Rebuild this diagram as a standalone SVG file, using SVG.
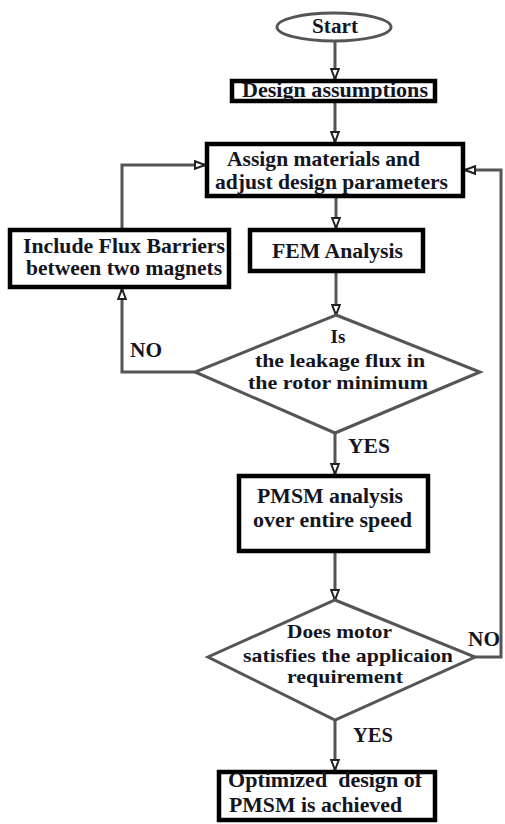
<svg xmlns="http://www.w3.org/2000/svg" width="505" height="824" viewBox="0 0 505 824">
<style>
.box{fill:#fff;stroke:#000;stroke-width:4.5}
.dec{fill:#fff;stroke:#555;stroke-width:3}
.t{font-family:'Liberation Serif','DejaVu Serif',serif;font-weight:700;font-size:21px;fill:#15151f}
.s{font-size:19px}
.c{fill:none;stroke:#555;stroke-width:3}
</style>
<defs>
<marker id="ah" viewBox="0 0 12 10" refX="11" refY="5" markerWidth="12" markerHeight="10" markerUnits="userSpaceOnUse" orient="auto">
<path d="M1,1.2 L11,5 L1,8.8 z" fill="#fff" stroke="#222" stroke-width="2"/>
</marker>
</defs>
<rect width="505" height="824" fill="#fff"/>
<g id="connectors">
<path class="c" d="M335,41 L335,79" marker-end="url(#ah)"/>
<path class="c" d="M335,103 L335,142" marker-end="url(#ah)"/>
<path class="c" d="M336,198 L336,228" marker-end="url(#ah)"/>
<path class="c" d="M336,273 L336,315" marker-end="url(#ah)"/>
<path class="c" d="M195,372 L122,372 L122,289" marker-end="url(#ah)"/>
<path class="c" d="M122,228 L122,165 L205,165" marker-end="url(#ah)"/>
<path class="c" d="M335,433 L335,474" marker-end="url(#ah)"/>
<path class="c" d="M335,553 L335,600" marker-end="url(#ah)"/>
<path class="c" d="M475,657 L501,657 L501,170 L465,170" marker-end="url(#ah)"/>
<path class="c" d="M335,720 L335,770" marker-end="url(#ah)"/>
<text class="t" font-family="Liberation Serif, serif" x="130" y="357" textLength="32" lengthAdjust="spacingAndGlyphs">NO</text>
<text class="t" font-family="Liberation Serif, serif" x="348" y="453" textLength="42" lengthAdjust="spacingAndGlyphs">YES</text>
<text class="t" font-family="Liberation Serif, serif" x="468" y="646" textLength="32" lengthAdjust="spacingAndGlyphs">NO</text>
<text class="t" font-family="Liberation Serif, serif" x="353" y="742" textLength="40" lengthAdjust="spacingAndGlyphs">YES</text>
</g>
<g id="start">
<ellipse cx="334" cy="27" rx="57" ry="14" fill="#fff" stroke="#555" stroke-width="3"/>
<text class="t" x="312" y="33" textLength="46" lengthAdjust="spacingAndGlyphs">Start</text>
</g>
<g id="design">
<rect class="box" x="232" y="81" width="203" height="20"/>
<text class="t" x="242" y="97" textLength="186" lengthAdjust="spacingAndGlyphs">Design assumptions</text>
</g>
<g id="assign">
<rect class="box" x="207" y="144" width="256" height="52"/>
<text class="t" x="227" y="166" textLength="193" lengthAdjust="spacingAndGlyphs">Assign materials and</text>
<text class="t" x="215" y="189" textLength="233" lengthAdjust="spacingAndGlyphs">adjust design parameters</text>
</g>
<g id="include">
<rect class="box" x="10" y="230" width="219" height="57"/>
<text class="t" x="23" y="253" textLength="202" lengthAdjust="spacingAndGlyphs">Include Flux Barriers</text>
<text class="t" x="26" y="275" textLength="196" lengthAdjust="spacingAndGlyphs">between two magnets</text>
</g>
<g id="fem">
<rect class="box" x="250" y="230" width="173" height="41"/>
<text class="t" x="272" y="258" textLength="131" lengthAdjust="spacingAndGlyphs">FEM Analysis</text>
</g>
<g id="leakage">
<polygon class="dec" points="336,315 480,372 335,433 195,372"/>
<text class="t s" x="338" y="343" text-anchor="middle">Is</text>
<text class="t s" x="255" y="367" textLength="170" lengthAdjust="spacingAndGlyphs">the leakage flux in</text>
<text class="t s" x="248" y="389" textLength="180" lengthAdjust="spacingAndGlyphs">the rotor minimum</text>
</g>
<g id="pmsm">
<rect class="box" x="239" y="476" width="189" height="75"/>
<text class="t" x="257" y="503" textLength="146" lengthAdjust="spacingAndGlyphs">PMSM analysis</text>
<text class="t" x="253" y="527" textLength="159" lengthAdjust="spacingAndGlyphs">over entire speed</text>
</g>
<g id="satisfies">
<polygon class="dec" points="335,600 475,657 335,720 208,657"/>
<text class="t s" x="287" y="638" textLength="105" lengthAdjust="spacingAndGlyphs">Does motor</text>
<text class="t s" x="243" y="662" textLength="210" lengthAdjust="spacingAndGlyphs">satisfies the applicaion</text>
<text class="t s" x="287" y="683" textLength="116" lengthAdjust="spacingAndGlyphs">requirement</text>
</g>
<g id="optimized">
<rect class="box" x="219" y="772" width="216" height="48"/>
<text class="t" x="228" y="787" textLength="194" lengthAdjust="spacingAndGlyphs" xml:space="preserve">Optimized  design of</text>
<text class="t" x="229" y="812" textLength="173" lengthAdjust="spacingAndGlyphs">PMSM is achieved</text>
</g>
</svg>
